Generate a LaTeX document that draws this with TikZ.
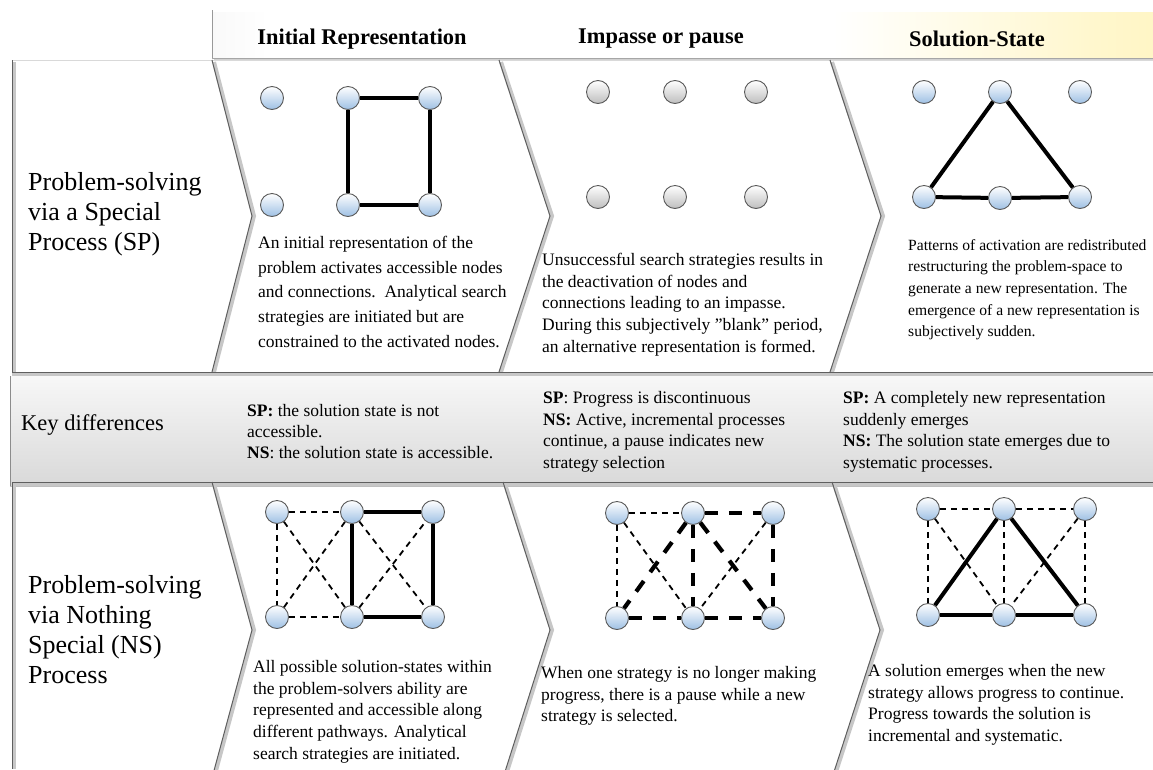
\documentclass[tikz,border=0pt]{standalone}
\usepackage{fontspec}
\setmainfont{Liberation Serif}
\definecolor{hdrL}{RGB}{200,200,200}
\definecolor{hdrY1}{RGB}{255,247,205}
\definecolor{hdrY2}{RGB}{255,233,135}
\definecolor{nodeblue}{RGB}{158,192,228}
\definecolor{nodegray}{RGB}{190,190,190}
\definecolor{edgegray}{RGB}{95,95,95}
\pgfdeclarehorizontalshading{hdrshade}{100bp}{color(0bp)=(hdrL); color(28bp)=(white); color(58bp)=(white); color(72bp)=(hdrY1); color(100bp)=(hdrY2)}
\begin{document}
\begin{tikzpicture}[x=1pt,y=-1pt,
  bnode/.style={circle, draw=black!65, line width=0.9pt, minimum size=23pt, inner sep=0pt,
    top color=white, bottom color=nodeblue},
  gnode/.style={circle, draw=black!65, line width=0.9pt, minimum size=23pt, inner sep=0pt,
    top color=white, bottom color=nodegray},
  solidlink/.style={line width=4pt},
  thindash/.style={line width=1.8pt, dash pattern=on 6pt off 5pt},
  thickdash/.style={line width=4.2pt, dash pattern=on 13pt off 11pt},
  shadowline/.style={line width=4pt, black!22},
  frameline/.style={line width=1pt, edgegray},
  body/.style={anchor=north west, inner sep=0pt, align=left, font=\fontsize{17.5}{21.7}\selectfont},
  bodywide/.style={body, font=\fontsize{17.5}{24.7}\selectfont},
  bodysmall/.style={body, font=\fontsize{15.6}{21.7}\selectfont},
  rowlabel/.style={anchor=north west, inner sep=0pt, align=left, font=\fontsize{26}{30}\selectfont},
  headlabel/.style={inner sep=0pt, font=\fontsize{22.4}{26}\selectfont\bfseries}
]
% canvas
\fill[white] (0,0) rectangle (1153,769);
\useasboundingbox (0,0) rectangle (1153,769);

% ---------- header band ----------
\fill[black!18] (214,13) rectangle (1153,61);
\shade[shading=hdrshade] (212,10) rectangle (1153,58);
\draw[white, line width=1.5pt] (213,11) -- (1153,11);
\draw[black!35, line width=1pt] (212,58) -- (1153,58);
\draw[black!40, line width=1.2pt] (212.6,10) -- (212.6,58);
\node[headlabel] (h1) at (362,39) {Initial Representation};
\node[headlabel] (h2) at (661,39) {Impasse or pause};
\node[headlabel] (h3) at (977,39) {Solution-State};

% ---------- top row ----------
\draw[black!15, line width=1pt] (12,60) -- (212,60);
\draw[black!15, line width=1pt] (212,60) -- (1153,60);
\draw[shadowline] (14,62) -- (14,372);
\draw[frameline] (12,60) -- (12,372);
% chevron edges
\foreach \xt/\xp in {212/252, 499/550, 830/881}{
  \draw[shadowline] (\xt+2,62) -- (\xp+2,216) -- (\xt+2,372);
  \draw[frameline] (\xt,60) -- (\xp,216) -- (\xt,372);
}
\draw[shadowline] (12,375) -- (1153,375);
\draw[frameline] (12,372.5) -- (1153,372.5);

% ---------- middle band ----------
\shade[top color=black!3, bottom color=black!15] (10,376) rectangle (1153,486);
\draw[black!45, line width=1pt] (10.5,376) -- (10.5,486);
\draw[black!25, line width=1pt] (10,486) -- (1153,486);

% ---------- bottom row ----------
\draw[shadowline] (12,484) -- (1153,484);
\draw[frameline] (12,482) -- (1153,482);
\draw[shadowline] (14,484) -- (14,769);
\draw[frameline] (12,482) -- (12,769);
\foreach \xt/\xp in {212/252, 503/550, 832/880}{
  \draw[shadowline] (\xt+2,484) -- (\xp+2,630) -- (\xt+2,778);
  \draw[frameline] (\xt,482) -- (\xp,630) -- (\xt,778);
}

% ---------- row labels ----------
\node[rowlabel] (lab1) at (28,172) {Problem-solving\\via a Special\\Process (SP)};
\node[anchor=west, inner sep=0pt, font=\fontsize{22.5}{26}\selectfont] (lab2) at (21,425) {Key differences};
\node[rowlabel] (lab3) at (28,575) {Problem-solving\\via Nothing\\Special (NS)\\Process};

% ---------- top row graphs ----------
% initial representation
\node[bnode] (t1a) at (272,98) {};
\node[bnode] (t1b) at (348,98) {};
\node[bnode] (t1c) at (430,98) {};
\node[bnode] (t1d) at (272,205) {};
\node[bnode] (t1e) at (348,205) {};
\node[bnode] (t1f) at (430,205) {};
\draw[solidlink] (t1b) -- (t1c);
\draw[solidlink] (t1c) -- (t1f);
\draw[solidlink] (t1f) -- (t1e);
\draw[solidlink] (t1e) -- (t1b);
% impasse
\node[gnode] (t2a) at (598,92) {};
\node[gnode] (t2b) at (675,92) {};
\node[gnode] (t2c) at (756,92) {};
\node[gnode] (t2d) at (598,197) {};
\node[gnode] (t2e) at (675,197) {};
\node[gnode] (t2f) at (756,197) {};
% solution state
\node[bnode] (t3a) at (924,92) {};
\node[bnode] (t3b) at (1000,92) {};
\node[bnode] (t3c) at (1080,92) {};
\node[bnode] (t3d) at (924,197) {};
\node[bnode] (t3e) at (1000,198) {};
\node[bnode] (t3f) at (1080,197) {};
\draw[solidlink] (t3b) -- (t3d);
\draw[solidlink] (t3d) -- (t3e);
\draw[solidlink] (t3e) -- (t3f);
\draw[solidlink] (t3f) -- (t3b);

% ---------- bottom row graphs ----------
% all pathways available
\node[bnode] (b1a) at (277,512) {};
\node[bnode] (b1b) at (352,512) {};
\node[bnode] (b1c) at (433,512) {};
\node[bnode] (b1d) at (277,617) {};
\node[bnode] (b1e) at (352,617) {};
\node[bnode] (b1f) at (433,617) {};
\draw[thindash] (b1a) -- (b1b);
\draw[thindash] (b1a) -- (b1d);
\draw[thindash] (b1d) -- (b1e);
\draw[thindash] (b1a) -- (b1e);
\draw[thindash] (b1d) -- (b1b);
\draw[thindash] (b1b) -- (b1f);
\draw[thindash] (b1e) -- (b1c);
\draw[solidlink] (b1b) -- (b1c);
\draw[solidlink] (b1c) -- (b1f);
\draw[solidlink] (b1f) -- (b1e);
\draw[solidlink] (b1e) -- (b1b);
% pause
\node[bnode] (b2a) at (617,513) {};
\node[bnode] (b2b) at (693,513) {};
\node[bnode] (b2c) at (773,513) {};
\node[bnode] (b2d) at (617,618) {};
\node[bnode] (b2e) at (693,618) {};
\node[bnode] (b2f) at (773,618) {};
\draw[thindash] (b2a) -- (b2b);
\draw[thindash] (b2a) -- (b2d);
\draw[thindash] (b2a) -- (b2e);
\draw[thindash] (b2c) -- (b2e);
\draw[thickdash] (b2b) -- (b2c);
\draw[thickdash] (b2b) -- (b2d);
\draw[thickdash] (b2b) -- (b2e);
\draw[thickdash] (b2b) -- (b2f);
\draw[thickdash] (b2c) -- (b2f);
\draw[thickdash] (b2d) -- (b2e);
\draw[thickdash] (b2e) -- (b2f);
% solution found
\node[bnode] (b3a) at (928,509) {};
\node[bnode] (b3b) at (1004,509) {};
\node[bnode] (b3c) at (1085,509) {};
\node[bnode] (b3d) at (928,615) {};
\node[bnode] (b3e) at (1004,615) {};
\node[bnode] (b3f) at (1085,615) {};
\draw[thindash] (b3a) -- (b3b);
\draw[thindash] (b3b) -- (b3c);
\draw[thindash] (b3a) -- (b3d);
\draw[thindash] (b3a) -- (b3e);
\draw[thindash] (b3b) -- (b3e);
\draw[thindash] (b3c) -- (b3e);
\draw[thindash] (b3c) -- (b3f);
\draw[solidlink] (b3b) -- (b3d);
\draw[solidlink] (b3d) -- (b3e);
\draw[solidlink] (b3e) -- (b3f);
\draw[solidlink] (b3f) -- (b3b);

% ---------- descriptions, top row ----------
\node[bodywide] (d11) at (258,236) {An initial representation of the\\problem activates accessible nodes\\and connections.\ \ Analytical search\\strategies are initiated but are\\constrained to the activated nodes.};
\node[body] (d12) at (542,253) {Unsuccessful search strategies results in\\the deactivation of nodes and\\connections leading to an impasse.\\During this subjectively ”blank” period,\\an alternative representation is formed.};
\node[bodysmall] (d13) at (908,239) {Patterns of activation are redistributed\\restructuring the problem-space to\\generate a new representation. The\\emergence of a new representation is\\subjectively sudden.};

% ---------- key differences ----------
\node[body, font=\fontsize{17.5}{21}\selectfont] (k1) at (247,404) {\textbf{SP:} the solution state is not\\accessible.\\\textbf{NS}: the solution state is accessible.};
\node[body] (k2) at (543,391) {\textbf{SP}: Progress is discontinuous\\\textbf{NS:} Active, incremental processes\\continue, a pause indicates new\\strategy selection};
\node[body] (k3) at (843,391) {\textbf{SP:} A completely new representation\\suddenly emerges\\\textbf{NS:} The solution state emerges due to\\systematic processes.};

% ---------- descriptions, bottom row ----------
\node[body] (d21) at (253,660) {All possible solution-states within\\the problem-solvers ability are\\represented and accessible along\\different pathways. Analytical\\search strategies are initiated.};
\node[body] (d22) at (541,666) {When one strategy is no longer making\\progress, there is a pause while a new\\strategy is selected.};
\node[body] (d23) at (868,664) {A solution emerges when the new\\strategy allows progress to continue.\\Progress towards the solution is\\incremental and systematic.};
\end{tikzpicture}
\end{document}
